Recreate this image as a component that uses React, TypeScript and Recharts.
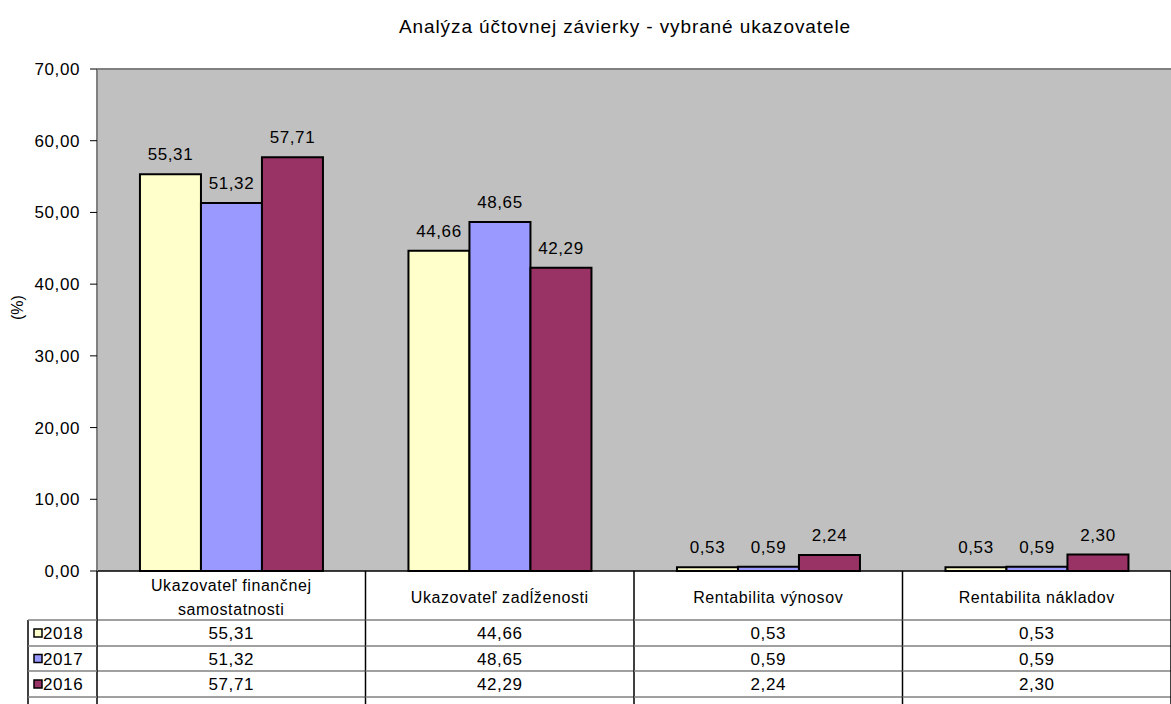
import React from "react";
import {
  BarChart,
  Bar,
  XAxis,
  YAxis,
  CartesianGrid,
  LabelList,
  ReferenceLine,
} from "recharts";

const CATEGORIES = [
  "Ukazovateľ finančnej samostatnosti",
  "Ukazovateľ zadĺženosti",
  "Rentabilita výnosov",
  "Rentabilita nákladov",
];
const VALUES_2018 = [55.31, 44.66, 0.53, 0.53];
const VALUES_2017 = [51.32, 48.65, 0.59, 0.59];
const VALUES_2016 = [57.71, 42.29, 2.24, 2.3];
const YEARS = ["2018", "2017", "2016"];
const Y_TICKS = [0, 10, 20, 30, 40, 50, 60, 70];

const COLORS = ["#FFFFCC", "#9999FF", "#993366"];
const FONT = "'Liberation Sans', Arial, sans-serif";

const W = 1171;
const H = 704;
const PLOT_LEFT = 97;
const PLOT_TOP = 69;
const PLOT_BOTTOM = 571;
const BAND = (W - PLOT_LEFT) / CATEGORIES.length;
const ROW_LINES = [620, 646, 671, 697];
const ROW_MID = [633, 658.5, 684];

const data = CATEGORIES.map((name, i) => ({
  name,
  y2018: VALUES_2018[i],
  y2017: VALUES_2017[i],
  y2016: VALUES_2016[i],
}));

const fmt = (v: number) => v.toFixed(2).replace(".", ",");

// long labels break in two at the space nearest the middle
function wrap(label: string): string[] {
  if (label.length <= 26) return [label];
  const mid = label.length / 2;
  let best = -1;
  for (let i = 0; i < label.length; i++) {
    if (label[i] === " " && (best < 0 || Math.abs(i - mid) < Math.abs(best - mid))) best = i;
  }
  return best < 0 ? [label] : [label.slice(0, best), label.slice(best + 1)];
}

const textStyle = { fontFamily: FONT, fontSize: 17, fill: "#000", letterSpacing: 0.6 };
const labelStyle = { fontFamily: FONT, fontSize: 16, fill: "#000", letterSpacing: 0.6 };

function TableTick(props: any) {
  const { x, payload, index } = props;
  const left = x - BAND / 2;
  const right = x + BAND / 2;
  const rows = [VALUES_2018, VALUES_2017, VALUES_2016];
  const lines = wrap(String(payload.value));
  const firstY = 597 - ((lines.length - 1) * 24) / 2;
  return (
    <g>
      <text textAnchor="middle" {...labelStyle}>
        {lines.map((ln, k) => (
          <tspan key={k} x={x} y={firstY + k * 24} dy="0.36em">
            {ln}
          </tspan>
        ))}
      </text>
      {ROW_LINES.map((y) => (
        <line key={y} x1={left} x2={right} y1={y} y2={y} stroke="#808080" strokeWidth={1.5} />
      ))}
      {rows.map((r, k) => (
        <text key={k} x={x} y={ROW_MID[k]} dy="0.36em" textAnchor="middle" {...textStyle}>
          {fmt(r[index])}
        </text>
      ))}
      <line x1={right} x2={right} y1={PLOT_BOTTOM} y2={H} stroke="#000" strokeWidth={1.5} />
      {index === 0 && (
        <g>
          <line x1={left} x2={left} y1={PLOT_BOTTOM} y2={H} stroke="#000" strokeWidth={1.5} />
          <line x1={28} x2={28} y1={ROW_LINES[0]} y2={H} stroke="#000" strokeWidth={1.5} />
          {ROW_LINES.map((y) => (
            <line key={y} x1={28} x2={left} y1={y} y2={y} stroke="#808080" strokeWidth={1.5} />
          ))}
          {YEARS.map((yr, k) => (
            <g key={yr}>
              <rect
                x={34}
                y={ROW_MID[k] - 4}
                width={8}
                height={8}
                fill={COLORS[k]}
                stroke="#000"
                strokeWidth={1.5}
              />
              <text x={43} y={ROW_MID[k]} dy="0.36em" {...textStyle}>
                {yr}
              </text>
            </g>
          ))}
        </g>
      )}
    </g>
  );
}

export default function App() {
  return (
    <div
      style={{
        position: "absolute",
        left: 0,
        top: 0,
        width: W,
        height: H,
        background: "#fff",
        fontFamily: FONT,
      }}
    >
      <div
        style={{
          position: "absolute",
          top: 16,
          left: 0,
          width: 1250,
          textAlign: "center",
          fontSize: 19,
          letterSpacing: 0.9,
          color: "#000",
        }}
      >
        Analýza účtovnej závierky - vybrané ukazovatele
      </div>
      <BarChart
        width={W}
        height={H}
        data={data}
        margin={{ top: PLOT_TOP, right: 0, left: 0, bottom: 0 }}
        barCategoryGap="16%"
        barGap={0}
      >
        <CartesianGrid horizontal={false} vertical={false} fill="#C0C0C0" />
        <ReferenceLine y={70} stroke="#808080" strokeWidth={2} ifOverflow="extendDomain" />
        <XAxis
          dataKey="name"
          height={H - PLOT_BOTTOM}
          axisLine={{ stroke: "#000", strokeWidth: 1.5 }}
          tickLine={false}
          tickSize={0}
          tickMargin={0}
          interval={0}
          tick={<TableTick />}
        />
        <YAxis
          width={PLOT_LEFT}
          domain={[0, 70]}
          ticks={Y_TICKS}
          interval={0}
          tickFormatter={fmt}
          axisLine={{ stroke: "#808080", strokeWidth: 2 }}
          tickLine={{ stroke: "#000" }}
          tickSize={7}
          tickMargin={10}
          tick={{ ...textStyle }}
          label={{
            value: "(%)",
            angle: -90,
            position: "insideLeft",
            offset: 17,
            style: { fontFamily: FONT, fontSize: 16, fill: "#000" },
          }}
        />
        {(["y2018", "y2017", "y2016"] as const).map((key, k) => (
          <Bar
            key={key}
            dataKey={key}
            fill={COLORS[k]}
            stroke="#000"
            strokeWidth={2}
            isAnimationActive={false}
          >
            <LabelList dataKey={key} position="top" offset={14} formatter={fmt} style={textStyle} />
          </Bar>
        ))}
      </BarChart>
    </div>
  );
}
